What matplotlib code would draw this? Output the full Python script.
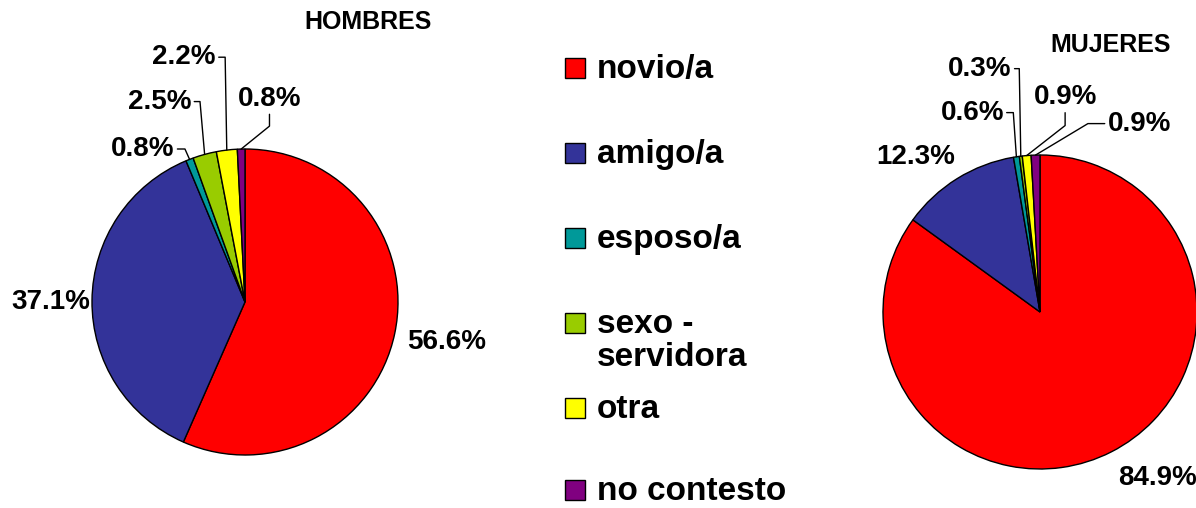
import numpy as np
import matplotlib
matplotlib.use("Agg")
import matplotlib.pyplot as plt
from matplotlib.patches import Rectangle

# data
categories = ["novio/a", "amigo/a", "esposo/a", "sexo -\nservidora", "otra", "no contesto"]
colors = ["#FF0000", "#333399", "#009999", "#99CC00", "#FFFF00", "#800080"]
hombres = [56.6, 37.1, 0.8, 2.5, 2.2, 0.8]
mujeres = [84.9, 12.3, 0.6, 0.3, 0.9, 0.9]

W, H = 1196, 508
plt.rcParams['font.family'] = ['Liberation Sans', 'DejaVu Sans']
plt.rcParams['font.weight'] = 'bold'

# label placement in pie units: (x, y, ha, relpos, connectionstyle or None)
hombres_layout = [
    (1.06, -0.26, 'left', None, None),
    (-1.01, 0.0, 'right', None, None),
    (-0.46, 1.00, 'right', (1, 0.5), 'angle,angleA=0,angleB=114,rad=0'),
    (-0.35, 1.31, 'right', (1, 0.5), 'angle,angleA=0,angleB=95,rad=0'),
    (-0.19, 1.60, 'right', (1, 0.5), 'angle,angleA=0,angleB=91,rad=0'),
    (0.16, 1.33, 'center', (0.5, 0), 'angle,angleA=90,angleB=39,rad=0'),
]
mujeres_layout = [
    (0.50, -1.06, 'left', None, None),
    (-0.54, 0.99, 'right', None, None),
    (-0.23, 1.27, 'right', (1, 0.5), 'angle,angleA=0,angleB=94,rad=0'),
    (-0.18, 1.55, 'right', (1, 0.5), 'angle,angleA=0,angleB=91,rad=0'),
    (0.16, 1.37, 'center', (0.5, 0), 'angle,angleA=90,angleB=38,rad=0'),
    (0.43, 1.20, 'left', (0, 0.5), 'angle,angleA=0,angleB=31,rad=0'),
]

fig = plt.figure(figsize=(W / 100, H / 100), dpi=100)
fig.patch.set_facecolor('white')

# overlay in pixel coordinates for titles and legend
lay = fig.add_axes([0, 0, 1, 1])
lay.set_xlim(0, W)
lay.set_ylim(H, 0)
lay.axis('off')


def draw_pie(cx, cy, r, values, layout):
    ax = fig.add_axes([(cx - r) / W, (H - cy - r) / H, 2 * r / W, 2 * r / H])
    wedges, _ = ax.pie(values, colors=colors, startangle=90, counterclock=False, radius=1,
                       wedgeprops=dict(edgecolor='black', linewidth=1))
    ax.set_xlim(-1, 1)
    ax.set_ylim(-1, 1)
    for w, v, (lx, ly, ha, relpos, conn) in zip(wedges, values, layout):
        txt = f"{v:.1f}%"
        if conn is None:
            ax.text(lx, ly, txt, ha=ha, va='center', fontsize=20, fontweight='bold')
            continue
        ang = np.deg2rad((w.theta1 + w.theta2) / 2)
        tip = (np.cos(ang), np.sin(ang))
        ax.annotate(txt, xy=tip, xytext=(lx, ly), ha=ha, va='center',
                    fontsize=20, fontweight='bold', annotation_clip=False,
                    arrowprops=dict(arrowstyle='-', color='black', lw=1,
                                    shrinkA=0, shrinkB=0, relpos=relpos,
                                    connectionstyle=conn))
    return ax


draw_pie(245, 302, 153, hombres, hombres_layout)
draw_pie(1040, 312, 157, mujeres, mujeres_layout)

lay.text(368, 22, "HOMBRES", ha='center', va='center', fontsize=18, fontweight='bold')
lay.text(1111, 45, "MUJERES", ha='center', va='center', fontsize=18, fontweight='bold')

# legend
legend_rows = [68, 153, 238, 323, 408, 490]
for y, lab, col in zip(legend_rows, categories, colors):
    lay.add_patch(Rectangle((565, y - 10), 20, 20, facecolor=col, edgecolor='black', lw=1))
    lay.text(597, y - 14, lab, ha='left', va='top', fontsize=24, fontweight='bold',
             linespacing=1.1)

fig.savefig("out.png", dpi=100, facecolor='white')
